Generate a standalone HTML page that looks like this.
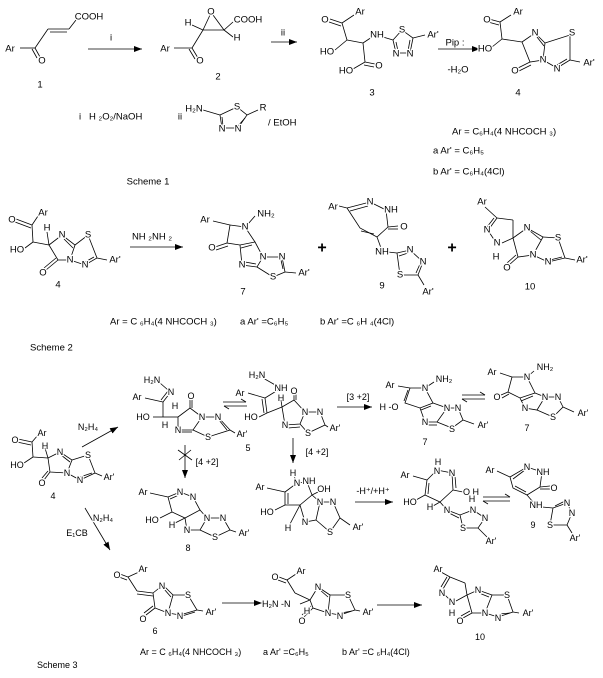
<!DOCTYPE html>
<html><head><meta charset="utf-8"><style>
html,body{margin:0;padding:0;background:#fff}
svg{display:block}
text{font-family:"Liberation Sans",Arial,sans-serif;font-size:9.5px;fill:#000;text-anchor:middle;dominant-baseline:central;stroke:#fff;stroke-width:2.5px;paint-order:stroke;stroke-linejoin:round}
text.l{text-anchor:start}
.s3 text{font-size:9px}
line,polyline{stroke:#000;stroke-width:0.8;fill:none}
</style></head><body>
<svg width="603" height="678" viewBox="0 0 603 678" xmlns="http://www.w3.org/2000/svg">
<defs><marker id="a" markerWidth="8" markerHeight="6" refX="8" refY="3" orient="auto" markerUnits="userSpaceOnUse"><path d="M0,0 L8,3 L0,6 Z" fill="#000"/></marker></defs>

<!-- ===== Scheme 1 ===== -->
<line x1="20" y1="48" x2="35" y2="48"/><line x1="35" y1="48" x2="40" y2="57"/><line x1="32" y1="49" x2="37" y2="58"/>
<line x1="35" y1="48" x2="48" y2="29"/><line x1="48" y1="29" x2="69" y2="29"/><line x1="50" y1="32" x2="67" y2="32"/><line x1="69" y1="29" x2="76" y2="20"/>
<text x="10" y="49">Ar</text><text x="42" y="61">O</text><text x="89" y="17">COOH</text><text x="40" y="85">1</text>
<line x1="88" y1="49" x2="142" y2="49" marker-end="url(#a)"/><text x="111" y="38">i</text>

<line x1="174" y1="48" x2="192" y2="48"/><line x1="192" y1="48" x2="198" y2="58"/><line x1="189" y1="49" x2="195" y2="59"/>
<line x1="192" y1="48" x2="203" y2="30"/><line x1="203" y1="30" x2="224" y2="30"/><line x1="203" y1="30" x2="210" y2="15"/><line x1="224" y1="30" x2="213" y2="15"/>
<line x1="203" y1="30" x2="192" y2="25"/><line x1="224" y1="30" x2="233" y2="37"/><line x1="224" y1="30" x2="233" y2="22"/>
<text x="165" y="49">Ar</text><text x="200" y="61">O</text><text x="211" y="12">O</text><text x="188" y="23">H</text><text x="237" y="38">H</text><text x="248" y="20">COOH</text><text x="218" y="77">2</text>
<line x1="271" y1="42" x2="297" y2="42" marker-end="url(#a)"/><text x="283" y="33">ii</text>

<line x1="342" y1="23" x2="330" y2="19"/><line x1="341" y1="26" x2="329" y2="22"/><line x1="342" y1="23" x2="354" y2="15"/>
<line x1="342" y1="23" x2="347" y2="40"/><line x1="347" y1="40" x2="335" y2="50"/><line x1="347" y1="40" x2="363" y2="43"/>
<line x1="363" y1="43" x2="372" y2="37"/><line x1="363" y1="43" x2="365" y2="62"/><line x1="365" y1="62" x2="353" y2="69"/><line x1="365" y1="62" x2="375" y2="64"/><line x1="364" y1="65" x2="374" y2="67"/>
<line x1="383" y1="37" x2="393" y2="40"/>
<polyline points="393,40 402,30 413,38 410,53 396,53 393,40"/><line x1="396" y1="42" x2="398" y2="51"/><line x1="410" y1="40" x2="408" y2="51"/><line x1="413" y1="38" x2="425" y2="35"/>
<text x="325" y="20">O</text><text x="360" y="12">Ar</text><text x="327" y="52">HO</text><text x="377" y="35">NH</text><text x="346" y="71">HO</text><text x="379" y="66">O</text>
<text x="402" y="30">S</text><text x="396" y="54">N</text><text x="410" y="54">N</text><text x="433" y="35">Ar'</text><text x="372" y="93">3</text>
<text x="455" y="43">Pip :</text><line x1="438" y1="49" x2="480" y2="49" marker-end="url(#a)"/><text x="458" y="70">-H₂O</text>

<line x1="500" y1="22" x2="489" y2="19"/><line x1="499" y1="25" x2="488" y2="22"/><line x1="500" y1="22" x2="511" y2="15"/>
<line x1="500" y1="22" x2="502" y2="39"/><line x1="502" y1="39" x2="492" y2="47"/><line x1="502" y1="39" x2="522" y2="42"/>
<polyline points="522,42 535,33 545,43 543,60 530,62 522,42"/><line x1="537" y1="37" x2="544" y2="46"/>
<line x1="530" y1="62" x2="518" y2="68"/><line x1="531" y1="65" x2="519" y2="71"/>
<polyline points="545,43 570,35 570,60 557,68 543,60"/><line x1="567" y1="59" x2="557" y2="65"/><line x1="570" y1="60" x2="580" y2="62"/>
<text x="485" y="49">HO</text><text x="487" y="20">O</text><text x="518" y="12">Ar</text><text x="535" y="33">N</text><text x="572" y="33">S</text><text x="543" y="60">N</text><text x="557" y="69">N</text><text x="589" y="63">Ar'</text><text x="515" y="71">O</text><text x="518" y="93">4</text>

<text x="80" y="117">i</text><text class="l" x="89" y="117">H ₂O₂/NaOH</text><text x="180" y="117">ii</text>
<line x1="203" y1="110" x2="220" y2="115"/>
<polyline points="220,115 237,107 247,115 238,128 222,128 220,115"/><line x1="222" y1="117" x2="223" y2="126"/><line x1="245" y1="118" x2="238" y2="126"/><line x1="247" y1="115" x2="258" y2="110"/>
<text x="194" y="109">H₂N</text><text x="237" y="107">S</text><text x="263" y="108">R</text><text x="222" y="129">N</text><text x="238" y="129">N</text><text class="l" x="268" y="123">/ EtOH</text>
<text class="l" x="452" y="132">Ar = C₆H₄(4 NHCOCH ₃)</text>
<text class="l" x="433" y="151">a  Ar' = C₆H₅</text>
<text class="l" x="433" y="172">b  Ar' = C₆H₄(4Cl)</text>
<text x="148" y="182">Scheme 1</text>

<!-- ===== Scheme 2 ===== -->
<line x1="32" y1="225" x2="16" y2="219"/><line x1="31" y1="228" x2="15" y2="222"/><line x1="32" y1="225" x2="38" y2="216"/>
<line x1="32" y1="225" x2="33" y2="242"/><line x1="33" y1="242" x2="25" y2="248"/><line x1="33" y1="242" x2="49" y2="245"/><line x1="49" y1="245" x2="47" y2="232"/>
<polyline points="49,245 62,235 75,245 70,260 58,260 49,245"/><line x1="64" y1="239" x2="73" y2="248"/><line x1="58" y1="260" x2="46" y2="270"/><line x1="56" y1="258" x2="44" y2="268"/>
<polyline points="75,245 88,235 97,258 85,265 70,260"/><line x1="94" y1="257" x2="85" y2="262"/><line x1="97" y1="258" x2="107" y2="260"/>
<text x="12" y="220">O</text><text x="43" y="213">Ar</text><text x="47" y="228">H</text><text x="17" y="250">HO</text><text x="62" y="235">N</text><text x="88" y="235">S</text><text x="70" y="260">N</text><text x="85" y="265">N</text><text x="43" y="273">O</text><text x="115" y="260">Ar'</text><text x="58" y="285">4</text>
<line x1="130" y1="247" x2="183" y2="247" marker-end="url(#a)"/><text x="152" y="237">NH ₂NH ₂</text>

<line x1="213" y1="221" x2="230" y2="225"/><line x1="248" y1="224" x2="255" y2="216"/>
<polyline points="230,225 245,227 255,242 240,245 227,243 230,225"/><line x1="252" y1="245" x2="241" y2="248"/>
<line x1="227" y1="243" x2="215" y2="247"/><line x1="228" y1="246" x2="216" y2="250"/>
<polyline points="255,242 263,257 257,267 242,265 240,245"/><line x1="245" y1="262" x2="256" y2="264"/>
<polyline points="263,257 282,257 285,272 273,277 257,267"/><line x1="281" y1="260" x2="283" y2="269"/><line x1="285" y1="272" x2="296" y2="273"/>
<text x="205" y="220">Ar</text><text x="245" y="227">N</text><text x="266" y="214">NH₂</text><text x="212" y="248">O</text><text x="263" y="257">N</text><text x="282" y="257">N</text><text x="242" y="265">N</text><text x="273" y="277">S</text><text x="304" y="273">Ar'</text><text x="243" y="292">7</text>
<text x="322" y="248" style="font-size:16px;font-weight:bold">+</text><text x="452" y="248" style="font-size:16px;font-weight:bold">+</text>

<polyline points="347,208 370,202 386,210 388,227 377,237 360,228 347,208"/><line x1="350" y1="211" x2="368" y2="206"/><line x1="374" y1="234" x2="361" y2="231"/>
<line x1="388" y1="227" x2="398" y2="226"/><line x1="388" y1="229" x2="398" y2="229"/><line x1="339" y1="206" x2="347" y2="208"/>
<line x1="377" y1="237" x2="381" y2="248"/><line x1="388" y1="252" x2="397" y2="253"/>
<polyline points="397,253 410,250 423,262 418,275 400,275 397,253"/><line x1="399" y1="256" x2="408" y2="253"/><line x1="420" y1="264" x2="416" y2="273"/><line x1="418" y1="275" x2="424" y2="285"/>
<text x="333" y="207">Ar</text><text x="370" y="202">N</text><text x="391" y="210">NH</text><text x="404" y="227">O</text><text x="382" y="252">NH</text><text x="410" y="250">N</text><text x="423" y="262">N</text><text x="400" y="275">S</text><text x="428" y="292">Ar'</text><text x="382" y="286">9</text>

<line x1="485" y1="207" x2="497" y2="218"/><line x1="497" y1="218" x2="513" y2="220"/><line x1="513" y1="220" x2="513" y2="238"/>
<line x1="497" y1="218" x2="489" y2="229"/><line x1="494" y1="218" x2="487" y2="227"/><line x1="489" y1="232" x2="495" y2="241"/><line x1="502" y1="243" x2="513" y2="238"/>
<polyline points="513,238 527,228 543,237 533,255 518,257 513,238"/><line x1="530" y1="231" x2="541" y2="240"/><line x1="518" y1="257" x2="509" y2="265"/><line x1="516" y1="255" x2="507" y2="263"/>
<polyline points="543,237 558,238 565,258 548,262 533,255"/><line x1="562" y1="257" x2="550" y2="260"/><line x1="565" y1="258" x2="575" y2="260"/>
<text x="482" y="202">Ar</text><text x="487" y="230">N</text><text x="497" y="243">N</text><text x="496" y="257">H</text><text x="527" y="228">N</text><text x="558" y="238">S</text><text x="533" y="255">N</text><text x="548" y="262">N</text><text x="507" y="268">O</text><text x="582" y="260">Ar'</text><text x="530" y="287">10</text>
<text class="l" x="110" y="322">Ar = C ₆H₄(4 NHCOCH  ₃)</text><text class="l" x="240" y="322">a Ar' =C₆H₅</text><text class="l" x="320" y="322">b Ar' =C ₆H ₄(4Cl)</text>
<text class="l" x="30" y="348">Scheme 2</text>

<!-- ===== Scheme 3 ===== -->
<g class="s3">
<line x1="32" y1="442" x2="18" y2="439"/><line x1="31" y1="445" x2="17" y2="442"/><line x1="32" y1="442" x2="38" y2="435"/>
<line x1="32" y1="442" x2="33" y2="457"/><line x1="33" y1="457" x2="24" y2="463"/><line x1="33" y1="457" x2="48" y2="458"/><line x1="48" y1="458" x2="45" y2="448"/>
<polyline points="48,458 60,452 72,460 67,473 50,472 48,458"/><line x1="61" y1="455" x2="70" y2="462"/><line x1="50" y1="472" x2="44" y2="480"/><line x1="48" y1="471" x2="42" y2="478"/>
<polyline points="72,460 88,455 95,473 80,480 67,473"/><line x1="92" y1="473" x2="80" y2="477"/><line x1="95" y1="473" x2="102" y2="476"/>
<text x="15" y="440">O</text><text x="42" y="433">Ar</text><text x="45" y="446">H</text><text x="17" y="465">HO</text><text x="60" y="452">N</text><text x="88" y="455">S</text><text x="67" y="473">N</text><text x="80" y="480">N</text><text x="42" y="483">O</text><text x="109" y="477">Ar'</text><text x="53" y="496">4</text>
<line x1="82" y1="447" x2="118" y2="427" marker-end="url(#a)"/><text x="88" y="427">N₂H₄</text>
<line x1="85" y1="508" x2="110" y2="550" marker-end="url(#a)"/><text x="103" y="518">N₂H₄</text><text x="77" y="533">E₁CB</text>

<!-- 5a -->
<line x1="160" y1="383" x2="168" y2="390"/><line x1="163" y1="402" x2="170" y2="393"/><line x1="161" y1="400" x2="168" y2="391"/>
<line x1="145" y1="398" x2="163" y2="402"/><line x1="163" y1="402" x2="163" y2="417"/><line x1="163" y1="417" x2="153" y2="417"/><line x1="163" y1="417" x2="178" y2="417"/>
<polyline points="178,417 190,408 202,417 193,430 178,430 178,417"/><line x1="190" y1="408" x2="190" y2="399"/><line x1="192" y1="408" x2="192" y2="399"/><line x1="181" y1="432" x2="192" y2="432"/>
<polyline points="202,417 218,417 230,430 208,437 193,430"/><line x1="219" y1="420" x2="227" y2="430"/><line x1="230" y1="430" x2="235" y2="433"/>
<text x="152" y="380">H₂N</text><text x="171" y="392">N</text><text x="137" y="397">Ar</text><text x="175" y="406">H</text><text x="191" y="396">O</text><text x="143" y="417">HO</text><text x="165" y="425">H</text><text x="178" y="430">N</text><text x="202" y="417">N</text><text x="218" y="417">N</text><text x="208" y="437">S</text><text x="242" y="434">Ar'</text>
<line x1="223" y1="402" x2="246" y2="402"/><line x1="246" y1="402" x2="241" y2="399"/><line x1="224" y1="406" x2="247" y2="406"/><line x1="224" y1="406" x2="229" y2="409"/>
<!-- 5b -->
<line x1="263" y1="378" x2="277" y2="386"/><line x1="278" y1="390" x2="265" y2="398"/><line x1="248" y1="393" x2="265" y2="398"/>
<line x1="265" y1="398" x2="267" y2="413"/><line x1="262" y1="399" x2="264" y2="413"/><line x1="267" y1="413" x2="259" y2="417"/><line x1="267" y1="413" x2="282" y2="407"/><line x1="282" y1="407" x2="281" y2="400"/>
<polyline points="282,407 294,400 305,412 300,424 285,425 282,407"/><line x1="294" y1="400" x2="294" y2="394"/><line x1="296" y1="400" x2="296" y2="394"/><line x1="288" y1="428" x2="300" y2="427"/>
<polyline points="305,412 320,412 325,425 308,433 300,424"/><line x1="325" y1="425" x2="328" y2="427"/>
<text x="257" y="375">H₂N</text><text x="281" y="388">NH</text><text x="240" y="393">Ar</text><text x="281" y="398">H</text><text x="294" y="391">O</text><text x="251" y="417">HO</text><text x="285" y="425">N</text><text x="305" y="412">N</text><text x="320" y="412">N</text><text x="308" y="433">S</text><text x="335" y="428">Ar'</text><text x="248" y="448">5</text>
<line x1="293" y1="438" x2="293" y2="463" marker-end="url(#a)"/><text x="317" y="452">[4 +2]</text>
<line x1="185" y1="445" x2="185" y2="478" marker-end="url(#a)"/><line x1="178" y1="450" x2="192" y2="460"/><line x1="179" y1="460" x2="191" y2="450"/><text x="207" y="462">[4 +2]</text>
<line x1="337" y1="407" x2="372" y2="407" marker-end="url(#a)"/><text x="358" y="397">[3 +2]</text>
<!-- 7a -->
<line x1="398" y1="386" x2="410" y2="388"/><line x1="425" y1="388" x2="434" y2="382"/>
<polyline points="410,388 425,388 433,403 420,408 405,403 410,388"/><line x1="408" y1="390" x2="404" y2="401"/><line x1="431" y1="406" x2="421" y2="410"/>
<polyline points="433,403 447,408 437,422 425,422 420,408"/><line x1="427" y1="425" x2="437" y2="425"/>
<polyline points="447,408 458,408 463,420 452,428 437,422"/><line x1="463" y1="420" x2="474" y2="424"/>
<text x="390" y="385">Ar</text><text x="425" y="388">N</text><text x="444" y="379">NH₂</text><text x="389" y="407">H -O</text><text x="447" y="408">N</text><text x="458" y="408">N</text><text x="425" y="422">N</text><text x="452" y="429">S</text><text x="483" y="425">Ar'</text><text x="425" y="442">7</text>
<line x1="462" y1="395" x2="485" y2="395"/><line x1="485" y1="395" x2="480" y2="392"/><line x1="462" y1="399" x2="485" y2="399"/><line x1="462" y1="399" x2="467" y2="402"/>
<!-- 7b -->
<line x1="500" y1="373" x2="512" y2="377"/><line x1="527" y1="377" x2="534" y2="371"/>
<polyline points="512,377 527,377 535,393 520,398 508,392 512,377"/><line x1="508" y1="392" x2="501" y2="395"/><line x1="509" y1="394" x2="502" y2="398"/><line x1="533" y1="396" x2="521" y2="401"/>
<polyline points="535,393 545,397 537,410 525,408 520,398"/><polyline points="545,397 558,397 563,407 553,417 537,410"/><line x1="563" y1="407" x2="574" y2="412"/>
<text x="492" y="372">Ar</text><text x="527" y="377">N</text><text x="545" y="367">NH₂</text><text x="497" y="397">O</text><text x="545" y="397">N</text><text x="558" y="397">N</text><text x="525" y="408">N</text><text x="553" y="417">S</text><text x="583" y="413">Ar'</text><text x="527" y="428">7</text>
<!-- 8 -->
<polyline points="168,497 180,492 193,497 200,510 185,518 172,512 168,497"/><line x1="150" y1="493" x2="168" y2="497"/><line x1="170" y1="499" x2="179" y2="495"/><line x1="172" y1="512" x2="160" y2="518"/><line x1="185" y1="518" x2="175" y2="523"/>
<polyline points="200,510 207,518 200,530 187,530 185,518"/><polyline points="207,518 223,518 230,530 215,537 200,530"/><line x1="230" y1="530" x2="236" y2="532"/>
<text x="143" y="492">Ar</text><text x="180" y="492">N</text><text x="193" y="497">N</text><text x="152" y="520">HO</text><text x="172" y="525">H</text><text x="207" y="518">N</text><text x="223" y="518">N</text><text x="187" y="530">N</text><text x="215" y="537">S</text><text x="244" y="533">Ar'</text><text x="188" y="548">8</text>
<!-- middle -->
<polyline points="285,492 297,483 307,482 312,495 300,505 285,505 285,492"/><line x1="267" y1="488" x2="285" y2="492"/><line x1="288" y1="493" x2="288" y2="504"/><line x1="297" y1="483" x2="294" y2="476"/>
<line x1="285" y1="505" x2="275" y2="510"/><line x1="300" y1="505" x2="290" y2="524"/><line x1="312" y1="495" x2="318" y2="492"/>
<polyline points="312,495 320,502 316,520 305,522 300,505"/><polyline points="320,502 333,502 340,518 330,532 316,520"/><line x1="340" y1="518" x2="350" y2="525"/>
<text x="293" y="473">H</text><text x="297" y="483">N</text><text x="309" y="481">NH</text><text x="324" y="489">OH</text><text x="260" y="487">Ar</text><text x="267" y="512">HO</text><text x="288" y="528">H</text><text x="320" y="502">N</text><text x="333" y="502">N</text><text x="305" y="522">N</text><text x="330" y="532">S</text><text x="358" y="527">Ar'</text>
<line x1="355" y1="502" x2="393" y2="502" marker-end="url(#a)"/><text x="373" y="491">-H⁺/+H⁺</text>
<!-- 9a -->
<polyline points="427,480 437,470 452,473 453,490 440,502 425,495 427,480"/><line x1="413" y1="476" x2="427" y2="480"/><line x1="429" y1="483" x2="428" y2="494"/><line x1="455" y1="476" x2="456" y2="488"/>
<line x1="453" y1="490" x2="463" y2="492"/><line x1="425" y1="495" x2="416" y2="500"/><line x1="440" y1="502" x2="433" y2="506"/><line x1="440" y1="502" x2="447" y2="510"/>
<polyline points="447,510 460,515 473,510 485,518 478,528 463,528 460,515"/><line x1="449" y1="513" x2="459" y2="518"/><line x1="478" y1="528" x2="487" y2="537"/>
<text x="405" y="475">Ar</text><text x="438" y="462">H</text><text x="437" y="471">N</text><text x="452" y="473">N</text><text x="471" y="492">O H</text><text x="410" y="502">HO</text><text x="430" y="507">H</text><text x="447" y="510">N</text><text x="472" y="499">H</text><text x="473" y="510">N</text><text x="485" y="518">N</text><text x="463" y="528">S</text><text x="491" y="541">Ar'</text>
<line x1="483" y1="497" x2="510" y2="497"/><line x1="510" y1="497" x2="505" y2="494"/><line x1="483" y1="501" x2="510" y2="501"/><line x1="483" y1="501" x2="488" y2="504"/>
<!-- 9b -->
<polyline points="510,477 527,467 542,472 540,487 527,495 513,488 510,477"/><line x1="497" y1="471" x2="510" y2="477"/><line x1="513" y1="479" x2="525" y2="470"/><line x1="526" y1="492" x2="515" y2="486"/>
<line x1="540" y1="487" x2="550" y2="486"/><line x1="540" y1="489" x2="550" y2="489"/><line x1="527" y1="495" x2="533" y2="502"/>
<polyline points="542,507 553,508 567,503 572,513 567,525 550,525 553,508"/><line x1="555" y1="506" x2="565" y2="501"/><line x1="567" y1="525" x2="572" y2="533"/>
<text x="490" y="470">Ar</text><text x="527" y="467">N</text><text x="543" y="472">NH</text><text x="554" y="488">O</text><text x="536" y="505">NH</text><text x="567" y="503">N</text><text x="572" y="513">N</text><text x="550" y="525">S</text><text x="575" y="538">Ar'</text><text x="533" y="525">9</text>
<!-- 6 -->
<line x1="128" y1="577" x2="120" y2="574"/><line x1="127" y1="580" x2="119" y2="577"/><line x1="128" y1="577" x2="139" y2="572"/><line x1="128" y1="577" x2="137" y2="591"/>
<line x1="137" y1="591" x2="153" y2="593"/><line x1="137" y1="594" x2="153" y2="596"/>
<polyline points="153,593 163,585 173,595 168,613 155,608 153,593"/><line x1="164" y1="589" x2="171" y2="597"/><line x1="155" y1="608" x2="146" y2="615"/><line x1="153" y1="606" x2="144" y2="613"/>
<polyline points="173,595 188,595 197,610 180,615 168,613"/><line x1="195" y1="612" x2="182" y2="616"/><line x1="197" y1="610" x2="203" y2="611"/>
<text x="117" y="575">O</text><text x="143" y="569">Ar</text><text x="162" y="586">N</text><text x="188" y="595">S</text><text x="168" y="613">N</text><text x="180" y="616">N</text><text x="143" y="619">O</text><text x="211" y="612">Ar'</text><text x="155" y="631">6</text>
<line x1="222" y1="603" x2="262" y2="603" marker-end="url(#a)"/>
<!-- mid -->
<line x1="287" y1="580" x2="279" y2="577"/><line x1="286" y1="583" x2="278" y2="580"/><line x1="287" y1="580" x2="296" y2="574"/><line x1="287" y1="580" x2="295" y2="593"/><line x1="295" y1="593" x2="310" y2="600"/><line x1="300" y1="604" x2="310" y2="600"/>
<polyline points="310,600 318,587 330,595 328,613 313,608 310,600"/><line x1="320" y1="590" x2="328" y2="597"/><line x1="313" y1="608" x2="304" y2="617"/><line x1="311" y1="606" x2="302" y2="615"/>
<polyline points="330,595 348,595 355,610 340,615 328,613"/><line x1="352" y1="611" x2="341" y2="613"/><line x1="355" y1="610" x2="360" y2="611"/>
<text x="275" y="577">O</text><text x="301" y="571">Ar</text><text class="l" x="262" y="604">H₂N -N</text><text x="307" y="611">H</text><text x="318" y="587">N</text><text x="348" y="595">S</text><text x="328" y="613">N</text><text x="340" y="616">N</text><text x="302" y="621">O</text><text x="368" y="612">Ar'</text>
<line x1="377" y1="605" x2="422" y2="605" marker-end="url(#a)"/>
<!-- 10 -->
<line x1="441" y1="572" x2="450" y2="577"/><line x1="450" y1="577" x2="465" y2="583"/><line x1="465" y1="583" x2="467" y2="595"/>
<line x1="450" y1="577" x2="443" y2="589"/><line x1="447" y1="577" x2="441" y2="587"/><line x1="445" y1="595" x2="450" y2="600"/><line x1="456" y1="601" x2="467" y2="595"/>
<polyline points="467,595 478,590 492,595 485,613 472,613 467,595"/><line x1="479" y1="593" x2="489" y2="597"/><line x1="472" y1="613" x2="463" y2="618"/><line x1="470" y1="611" x2="461" y2="616"/>
<polyline points="492,595 507,595 513,612 498,617 485,613"/><line x1="510" y1="613" x2="499" y2="614"/><line x1="513" y1="612" x2="519" y2="613"/>
<text x="438" y="569">Ar</text><text x="442" y="593">N</text><text x="452" y="602">N</text><text x="452" y="613">H</text><text x="478" y="590">N</text><text x="507" y="595">S</text><text x="485" y="613">N</text><text x="498" y="618">N</text><text x="460" y="621">O</text><text x="528" y="613">Ar'</text><text x="480" y="637">10</text>
<text class="l" x="140" y="652">Ar = C ₆H₄(4 NHCOCH  ₃)</text><text class="l" x="263" y="652">a Ar' =C₆H₅</text><text class="l" x="342" y="652">b Ar' =C ₆H₄(4Cl)</text>
<text class="l" x="37" y="665">Scheme 3</text>
</g>
</svg>
</body></html>
